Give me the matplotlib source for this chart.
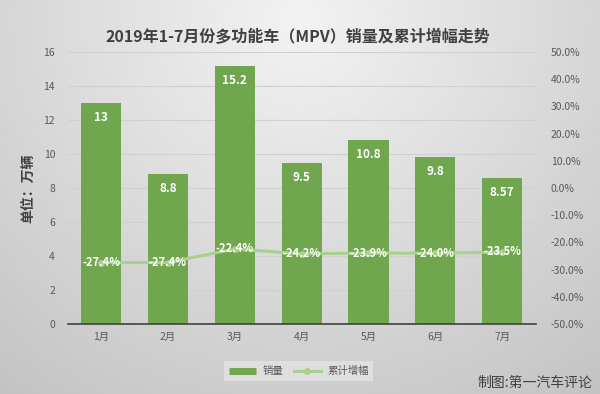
import numpy as np
import matplotlib
matplotlib.use('Agg')
import matplotlib.pyplot as plt
from matplotlib.ticker import FuncFormatter
from matplotlib.lines import Line2D

plt.rcParams['font.family'] = ['Noto Sans CJK SC', 'DejaVu Sans']

months = ['1月', '2月', '3月', '4月', '5月', '6月', '7月']
sales = [13, 8.8, 15.2, 9.5, 10.8, 9.8, 8.57]
sales_labels = ['13', '8.8', '15.2', '9.5', '10.8', '9.8', '8.57']
growth = [-27.4, -27.4, -22.4, -24.2, -23.9, -24.0, -23.5]

bar_color = '#70a64e'
line_color = '#a9d18e'
tick_color = '#595959'

fig = plt.figure(figsize=(6, 3.94), dpi=100)

# gradient background (light centre, darker edges)
bg = fig.add_axes([0, 0, 1, 1], zorder=-10)
yy, xx = np.mgrid[0:1:200j, 0:1:300j]
r = np.sqrt(((xx - 0.5) / 0.75) ** 2 + ((yy - 0.05) / 1.1) ** 2)
bg.imshow(0.95 - 0.17 * r, cmap='gray', vmin=0, vmax=1, aspect='auto',
          extent=[0, 1, 0, 1], origin='upper')
bg.axis('off')

ax = fig.add_axes([0.1127, 0.1777, 0.78, 0.690])
ax.patch.set_alpha(0)
x = np.arange(len(months))
bars = ax.bar(x, sales, width=0.6, color=bar_color, zorder=2)
ax.set_ylim(0, 16)
ax.set_yticks(range(0, 17, 2))
ax.set_xlim(-0.5, 6.5)
ax.set_xticks(x)
ax.set_xticklabels(months)
ax.grid(axis='y', color='#d0d0d0', linewidth=0.8, zorder=0)
for s in ['top', 'right', 'left']:
    ax.spines[s].set_visible(False)
ax.spines['bottom'].set_color('#404040')
ax.spines['bottom'].set_linewidth(1.2)
ax.tick_params(axis='both', length=0, colors=tick_color, labelsize=7.5)
ax.tick_params(axis='x', pad=6)
ax.tick_params(axis='y', pad=9)
ax.set_ylabel('单位：万辆', fontsize=10, fontweight='bold', color='#404040', labelpad=6)

for b, lab in zip(bars, sales_labels):
    ax.text(b.get_x() + b.get_width() / 2, b.get_height() - 0.85, lab,
            ha='center', va='center', color='white', fontsize=8.5, fontweight='bold', zorder=5)

ax2 = ax.twinx()
ax2.set_ylim(-50, 50)
ax2.set_yticks(range(-50, 51, 10))
ax2.yaxis.set_major_formatter(FuncFormatter(lambda v, p: f'{v:.1f}%'))
for s in ax2.spines.values():
    s.set_visible(False)
ax2.tick_params(axis='y', length=0, colors=tick_color, labelsize=7.5, pad=11)
ax2.plot(x, growth, color=line_color, linewidth=2.2, marker='o', markersize=4, zorder=3)
for xi, g in zip(x, growth):
    ax2.text(xi, g, f'{g:.1f}%', ha='center', va='center', color='white',
             fontsize=8, fontweight='bold', zorder=5)

fig.text(0.497, 0.905, '2019年1-7月份多功能车（MPV）销量及累计增幅走势',
         ha='center', va='center', fontsize=11.5, fontweight='bold', color='#404040')

handles = [Line2D([], [], color=bar_color, linewidth=5, solid_capstyle='butt'),
           Line2D([], [], color=line_color, linewidth=2.2, marker='o', markersize=4)]
leg = fig.legend(handles, ['销量', '累计增幅'], loc='center', bbox_to_anchor=(0.498, 0.058),
                 ncol=2, frameon=True, fontsize=7.5, handlelength=2.6, handletextpad=0.6,
                 columnspacing=1.0, borderpad=0.45, fancybox=False)
leg.get_frame().set_facecolor('#e4e4e4')
leg.get_frame().set_edgecolor('none')
for t in leg.get_texts():
    t.set_color(tick_color)

fig.text(0.987, 0.028, '制图:第一汽车评论', ha='right', va='center', fontsize=10, color='#404040')

fig.savefig('out.png', dpi=100)
